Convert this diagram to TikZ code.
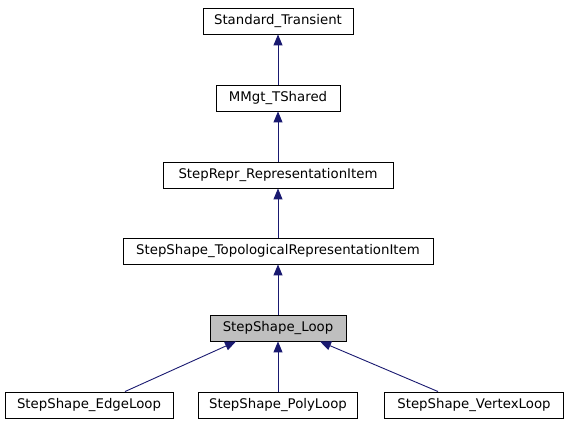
\documentclass[tikz,border=0pt]{standalone}
\usepackage{fontspec}
\setmainfont{DejaVu Sans}
\usetikzlibrary{arrows.meta,calc}
\begin{document}
\begin{tikzpicture}[x=1pt,y=-1pt,
  cls/.style={draw=black, line width=0.9pt, fill=white, minimum height=26pt, inner sep=0pt, font=\fontsize{13.3}{15}\selectfont, anchor=center},
  inh/.style={draw=midblue, line width=0.9pt, {Triangle[length=11pt,width=9pt,fill=midblue]}-}]
\definecolor{midblue}{HTML}{191970}
\useasboundingbox (0,0) rectangle (568,427);
\node[cls, minimum width=150pt] (st) at (278,21) {Standard\_Transient};
\node[cls, minimum width=124pt] (mm) at (278,98) {MMgt\_TShared};
\node[cls, minimum width=230pt] (ri) at (278,175) {StepRepr\_RepresentationItem};
\node[cls, minimum width=310pt] (tri) at (278,251) {StepShape\_TopologicalRepresentationItem};
\node[cls, minimum width=136pt, fill={rgb,255:red,191;green,191;blue,191}] (loop) at (278,328) {StepShape\_Loop};
\node[cls, minimum width=168pt] (edge) at (89,405) {StepShape\_EdgeLoop};
\node[cls, minimum width=159pt] (poly) at (278,405) {StepShape\_PolyLoop};
\node[cls, minimum width=179pt] (vert) at (474,405) {StepShape\_VertexLoop};
\draw[inh] (st) -- (mm);
\draw[inh] (mm) -- (ri);
\draw[inh] (ri) -- (tri);
\draw[inh] (tri) -- (loop);
\draw[inh] ($(loop.south)+(-42,0)$) -- ($(edge.north)+(36,0)$);
\draw[inh] (loop) -- (poly);
\draw[inh] ($(loop.south)+(42,0)$) -- ($(vert.north)+(-36,0)$);
\end{tikzpicture}
\end{document}
